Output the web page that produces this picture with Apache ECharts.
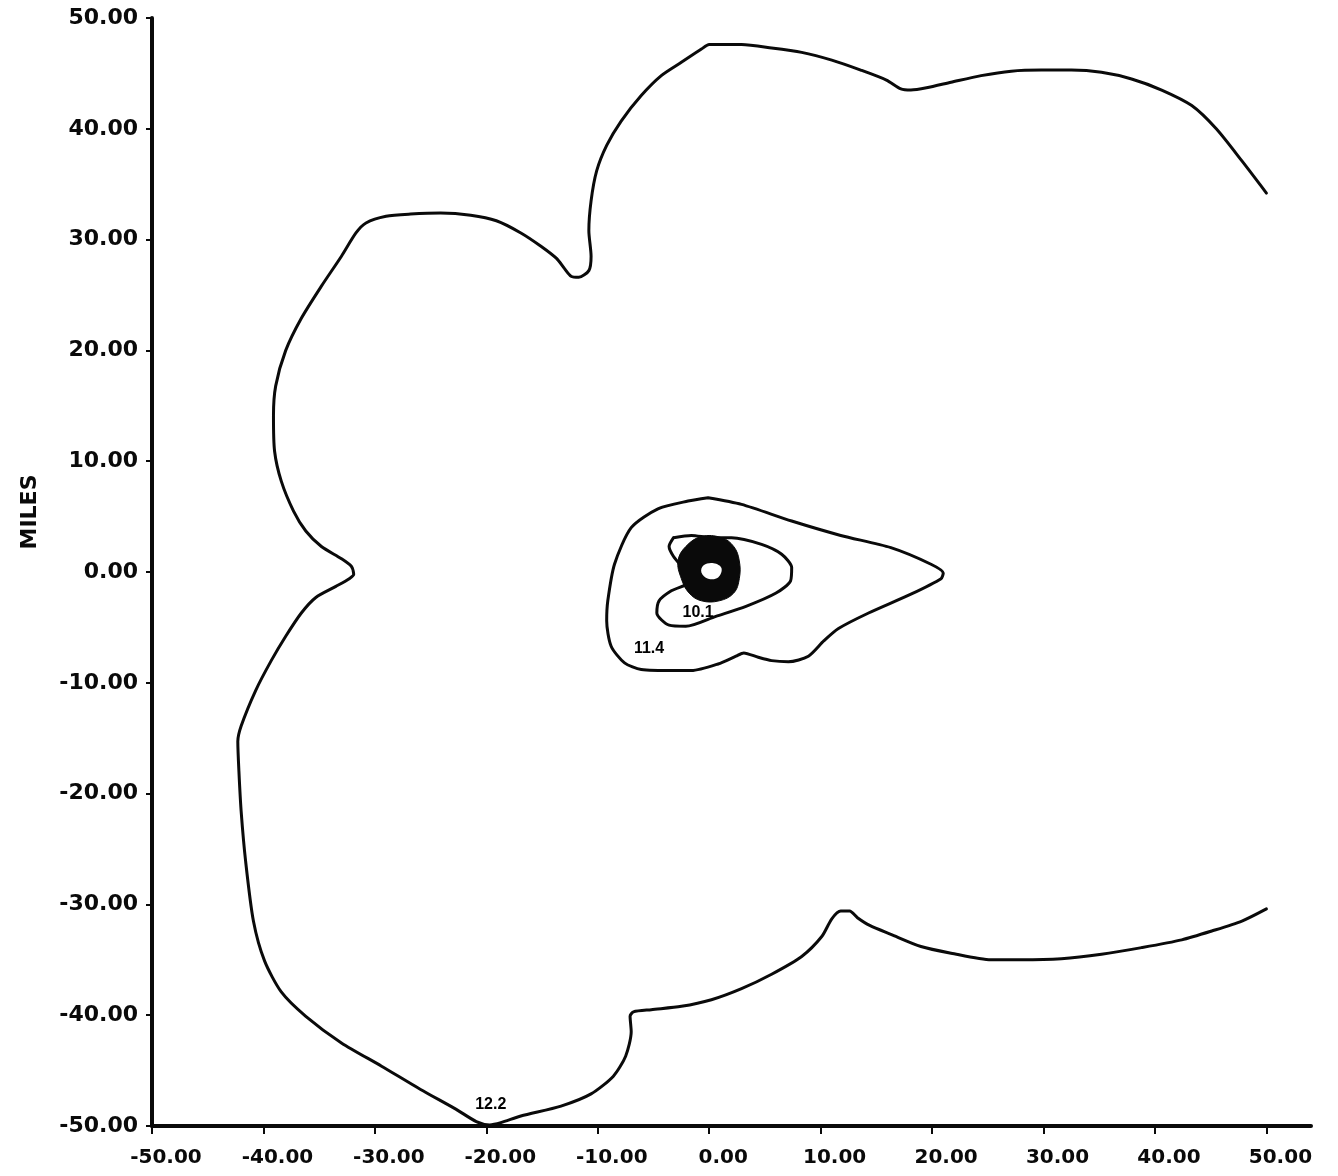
<!DOCTYPE html>
<html>
<head>
<meta charset="utf-8">
<script src="https://cdn.jsdelivr.net/npm/echarts@6/dist/echarts.min.js"></script>
<style>
  html, body { margin: 0; padding: 0; background: #ffffff; }
  #chart { width: 1338px; height: 1176px; }
</style>
</head>
<body>
<div id="chart"></div>
<script>
// Tick values for both axes (miles)
const xTicks = [-50, -40, -30, -20, -10, 0, 10, 20, 30, 40, 50];
const yTicks = [-50, -40, -30, -20, -10, 0, 10, 20, 30, 40, 50];

// Contour levels and where each level's label sits
const contourLevels = [12.2, 11.4, 10.1];
const levelLabelPoints = [[-19.6, -48.1], [-5.4, -6.9], [-1.0, -3.7]];

// Outer contour (12.2), open at the right-hand edge of the plot
const contour122 = [
  [50.0, 34.2], [47.8, 37.1], [45.5, 40.0], [43.3, 42.1], [40.6, 43.5], [37.9, 44.5],
  [35.2, 45.1], [32.5, 45.3], [29.8, 45.3], [27.1, 45.2], [24.4, 44.8], [21.7, 44.2],
  [19.5, 43.7], [18.1, 43.5], [17.2, 43.6], [15.9, 44.4], [13.6, 45.3], [11.0, 46.2],
  [8.3, 46.9], [5.6, 47.3], [2.9, 47.6], [0.0, 47.6], [-0.7, 47.2], [-2.5, 46.0],
  [-4.3, 44.8], [-6.1, 43.0], [-7.9, 40.7], [-9.2, 38.5], [-10.1, 36.2], [-10.6, 33.5],
  [-10.8, 30.8], [-10.6, 28.5], [-10.8, 27.2], [-11.7, 26.6], [-12.4, 26.7], [-13.0, 27.4],
  [-13.7, 28.3], [-15.1, 29.4], [-16.9, 30.6], [-19.1, 31.7], [-21.4, 32.2], [-24.1, 32.4],
  [-26.8, 32.3], [-29.0, 32.1], [-30.8, 31.5], [-31.7, 30.6], [-33.0, 28.5], [-34.8, 25.8],
  [-36.6, 22.9], [-38.0, 20.0], [-38.9, 16.8], [-39.1, 14.1], [-39.0, 10.9], [-38.4, 8.2],
  [-37.3, 5.5], [-36.2, 3.7], [-34.8, 2.3], [-33.0, 1.2], [-32.1, 0.5], [-31.9, -0.2],
  [-32.3, -0.6], [-33.5, -1.3], [-35.3, -2.3], [-36.6, -3.7], [-38.0, -5.8], [-39.3, -8.0],
  [-40.7, -10.7], [-42.0, -13.9], [-42.3, -15.3], [-42.2, -18.0], [-42.0, -21.6], [-41.6, -26.1],
  [-40.9, -31.5], [-39.9, -35.1], [-38.4, -37.9], [-36.2, -40.1], [-33.0, -42.5], [-29.4, -44.6],
  [-25.9, -46.7], [-22.7, -48.5], [-20.9, -49.6], [-19.7, -49.9], [-18.7, -49.7], [-16.9, -49.1],
  [-13.3, -48.2], [-10.6, -47.1], [-8.6, -45.5], [-7.5, -43.7], [-7.0, -41.5], [-7.1, -40.1],
  [-6.8, -39.7], [-5.2, -39.5], [-2.5, -39.2], [0.2, -38.6], [2.9, -37.6], [5.6, -36.3],
  [8.3, -34.7], [10.1, -32.9], [11.0, -31.3], [11.8, -30.6], [12.6, -30.6], [13.3, -31.2],
  [14.4, -31.9], [16.3, -32.7], [19.0, -33.8], [21.7, -34.4], [25.3, -35.0], [28.0, -35.0],
  [31.6, -34.9], [35.2, -34.5], [38.8, -33.9], [42.4, -33.2], [45.1, -32.4], [47.8, -31.5],
  [50.0, -30.4]
];

// Middle contour (11.4), closed
const contour114 = [
  [-0.1, 6.7], [2.9, 6.1], [7.4, 4.6], [11.8, 3.3], [16.3, 2.2], [19.9, 0.7],
  [21.0, -0.1], [20.8, -0.6], [18.1, -2.0], [14.3, -3.7], [11.6, -5.1], [10.3, -6.2],
  [8.9, -7.6], [7.1, -8.1], [5.6, -8.0], [4.4, -7.7], [3.1, -7.3], [2.4, -7.6],
  [0.8, -8.3], [-1.6, -8.9], [-3.1, -8.9], [-6.1, -8.8], [-7.6, -8.2], [-8.8, -6.7],
  [-9.2, -4.4], [-9.1, -2.6], [-8.5, 0.7], [-7.0, 4.0], [-4.6, 5.7], [-1.9, 6.4],
  [-0.1, 6.7]
];

// Inner contour (10.1), closed, passing through the core
const contour101 = [
  [-3.2, 3.1], [-1.6, 3.3], [0.2, 3.1], [2.0, 3.1], [4.7, 2.5], [6.5, 1.6],
  [7.4, 0.4], [7.3, -0.8], [6.0, -1.9], [3.3, -3.1], [0.6, -4.0], [-2.1, -4.9],
  [-3.6, -4.8], [-4.7, -3.7], [-4.5, -2.6], [-3.4, -1.7], [-1.6, -0.8], [-2.3, 0.3],
  [-3.2, 1.4], [-3.6, 2.3], [-3.2, 3.1]
];

// Core: the densely packed contours around the peak merge into a solid ring
const coreOuter = [
  [-0.7, 3.2], [1.1, 3.1], [2.2, 2.3], [2.7, 1.0], [2.7, -0.6], [2.2, -1.9],
  [0.9, -2.6], [-0.7, -2.6], [-1.8, -1.9], [-2.5, -0.6], [-2.8, 1.0], [-2.1, 2.3]
];
const coreHole = [
  [-0.5, 0.6], [0.4, 0.8], [1.1, 0.35], [0.8, -0.5], [-0.1, -0.6], [-0.7, -0.05]
];

const INK = '#0a0a0a';
const LABEL_FONT = '"DejaVu Sans", "Liberation Sans", sans-serif';

function contourSeries(data, width, smooth) {
  return {
    type: 'line',
    data: data,
    showSymbol: false,
    symbol: 'none',
    smooth: smooth,
    silent: true,
    clip: false,
    lineStyle: { color: INK, width: width, join: 'round', cap: 'round', opacity: 1 },
    z: 3
  };
}

const series = [
  contourSeries(contour122, 3, 0.25),
  contourSeries(contour114, 3, 0.25),
  contourSeries(contour101, 3, 0.25)
];

// Dark ring at the peak, drawn as a filled ring through the axes' coordinates
series.push({
  type: 'custom',
  silent: true,
  z: 4,
  data: [[0, 0]],
  renderItem: (params, api) => ({
    type: 'group',
    children: [
      {
        type: 'polygon',
        shape: { points: coreOuter.map(p => api.coord(p)), smooth: 0.4 },
        style: { fill: INK, stroke: INK, lineWidth: 1 }
      },
      {
        type: 'polygon',
        shape: { points: coreHole.map(p => api.coord(p)), smooth: 0.4 },
        style: { fill: '#ffffff' }
      }
    ]
  })
});

// Level labels placed beside their contours
series.push({
  type: 'scatter',
  symbolSize: 0,
  silent: true,
  z: 5,
  itemStyle: { opacity: 1 },
  data: levelLabelPoints.map((p, i) => ({ value: [p[0], p[1]], level: contourLevels[i] })),
  label: {
    show: true,
    position: 'inside',
    opacity: 1,
    formatter: p => p.data.level.toFixed(1),
    color: '#000000',
    fontFamily: '"Liberation Sans", Arial, sans-serif',
    fontWeight: 'bold',
    fontSize: 16
  }
});

const chart = echarts.init(document.getElementById('chart'), null, { renderer: 'canvas' });
chart.setOption({
  backgroundColor: '#ffffff',
  animation: false,
  grid: { left: 152, right: 27, top: 18, bottom: 50, containLabel: false },
  xAxis: {
    type: 'value',
    min: -50,
    max: 54,
    axisLine: { show: true, onZero: false, lineStyle: { color: INK, width: 4 } },
    axisTick: { show: true, inside: false, length: 8, customValues: xTicks, lineStyle: { color: INK, width: 2 } },
    axisLabel: {
      show: true,
      customValues: xTicks,
      margin: 22,
      padding: [0, 0, 0, 28],
      color: INK,
      fontFamily: LABEL_FONT,
      fontWeight: 'bold',
      fontSize: 20,
      formatter: v => v.toFixed(2)
    },
    splitLine: { show: false }
  },
  yAxis: {
    type: 'value',
    min: -50,
    max: 50,
    interval: 10,
    axisLine: { show: true, onZero: false, lineStyle: { color: INK, width: 4 } },
    axisTick: { show: true, inside: false, length: 6, customValues: yTicks, lineStyle: { color: INK, width: 2 } },
    axisLabel: {
      show: true,
      customValues: yTicks,
      margin: 14,
      color: INK,
      fontFamily: LABEL_FONT,
      fontWeight: 'bold',
      fontSize: 22,
      formatter: v => v.toFixed(2)
    },
    splitLine: { show: false }
  },
  graphic: [{
    type: 'text',
    x: 30,
    y: 512,
    rotation: Math.PI / 2,
    style: {
      text: 'MILES',
      fill: INK,
      font: 'bold 22px "DejaVu Sans", "Liberation Sans", sans-serif',
      align: 'center',
      verticalAlign: 'middle'
    }
  }],
  series: series
});
</script>
</body>
</html>
